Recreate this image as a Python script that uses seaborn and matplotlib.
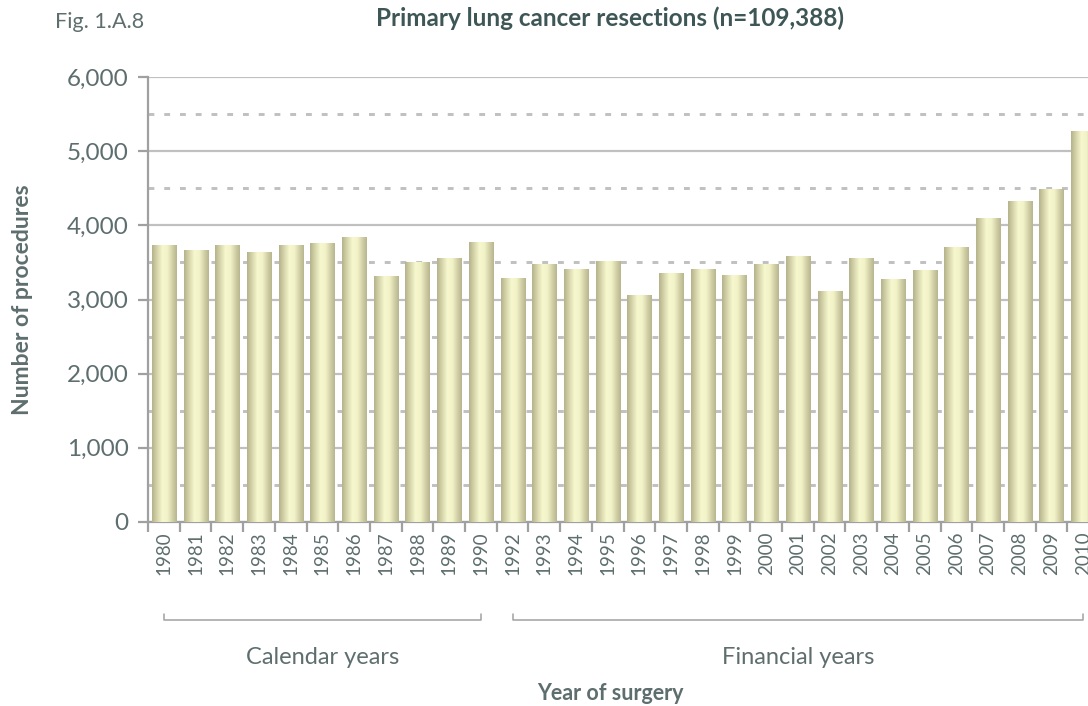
import numpy as np
import pandas as pd
import seaborn as sns
import matplotlib.pyplot as plt
from matplotlib.colors import LinearSegmentedColormap
from matplotlib.ticker import MultipleLocator, FuncFormatter

# values
calendar_years = ['1980', '1981', '1982', '1983', '1984', '1985', '1986',
                  '1987', '1988', '1989', '1990']
calendar_counts = [3736, 3668, 3736, 3641, 3736, 3763, 3844, 3317, 3506, 3560, 3776]
financial_years = ['1992', '1993', '1994', '1995', '1996', '1997', '1998', '1999',
                   '2000', '2001', '2002', '2003', '2004', '2005', '2006', '2007',
                   '2008', '2009', '2010']
financial_counts = [3290, 3479, 3412, 3520, 3061, 3358, 3412, 3331, 3479, 3587,
                    3114, 3560, 3277, 3398, 3709, 4095, 4324, 4486, 5270]

years = calendar_years + financial_years
counts = calendar_counts + financial_counts
df = pd.DataFrame({'Year': years, 'Procedures': counts})

sns.set_theme(style='white')
plt.rcParams['font.family'] = ['Lato', 'DejaVu Sans']

text_col = '#5e6e6e'
dark_col = '#3f5656'
grid_col = '#c0c0c0'
axis_col = '#a0a0a0'

fig = plt.figure(figsize=(10.88, 7.06), dpi=100)
ax = fig.add_axes([148 / 1088, 1 - 521.7 / 706, 951 / 1088, 444.4 / 706])

sns.barplot(data=df, x='Year', y='Procedures', color='#eeeec0', width=0.76,
            ax=ax, zorder=3, saturation=1)

# horizontal shading on each bar, clipped to the bar patch
shade = LinearSegmentedColormap.from_list(
    'shade', [(0.0, '#b4b38b'), (0.18, '#d2d1a8'), (0.42, '#f8f8cf'),
              (0.62, '#f3f3c8'), (0.85, '#cdcca3'), (1.0, '#b7b68f')])
grad = np.linspace(0, 1, 64).reshape(1, -1)
for p in ax.patches:
    x0, y0 = p.get_x(), p.get_y()
    w, h = p.get_width(), p.get_height()
    im = ax.imshow(grad, cmap=shade, aspect='auto', extent=[x0, x0 + w, y0, y0 + h],
                   zorder=3.5, interpolation='bicubic')
    im.set_clip_path(p)
    p.set_edgecolor('none')

ax.set_xlim(-0.5, len(years) - 0.5)
ax.set_ylim(0, 6000)

# grid: solid at 1000s, dashed at 500s
ax.yaxis.set_major_locator(MultipleLocator(1000))
ax.yaxis.set_minor_locator(MultipleLocator(500))
ax.grid(axis='y', which='major', color=grid_col, lw=1.6, zorder=0)
ax.grid(axis='y', which='minor', color=grid_col, lw=2.1, ls=(0, (2, 3.4)), zorder=0)
ax.set_axisbelow(True)
ax.yaxis.set_major_formatter(FuncFormatter(lambda v, _: f'{int(v):,}'))

for s in ['top', 'right']:
    ax.spines[s].set_visible(False)
for s in ['left', 'bottom']:
    ax.spines[s].set_color(axis_col)
    ax.spines[s].set_linewidth(1.6)

ax.tick_params(axis='y', which='major', left=True, length=7, width=1.6,
               color=axis_col, labelsize=17.5, labelcolor=text_col, pad=7)
ax.tick_params(axis='y', which='minor', left=False)
ax.set_xticks(range(len(years)))
ax.set_xticklabels(years, rotation=90)
ax.set_xticks(np.arange(len(years) + 1) - 0.5, minor=True)
ax.tick_params(axis='x', which='major', bottom=False, length=0, labelsize=13.5,
               labelcolor=text_col, pad=7)
ax.tick_params(axis='x', which='minor', bottom=True, length=7, width=1.6, color=axis_col)

ax.set_xlabel('')
ax.set_ylabel('Number of procedures', fontsize=16.5, fontweight='bold', color=text_col)
ax.yaxis.set_label_coords(-0.121, 0.5)

# brackets under the year labels
tr = ax.get_xaxis_transform()
groups = [(calendar_years, 'Calendar years'), (financial_years, 'Financial years')]
for grp, label in groups:
    a = years.index(grp[0])
    b = years.index(grp[-1])
    ax.plot([a, a, b, b], [-0.208, -0.222, -0.222, -0.208], transform=tr,
            color=axis_col, lw=1.1, clip_on=False)
    ax.text((a + b) / 2, -0.305, label, transform=tr, ha='center', va='center',
            fontsize=17, color=text_col)

fig.text(610 / 1088, 1 - 693 / 706, 'Year of surgery', ha='center', va='center',
         fontsize=15.5, fontweight='bold', color=text_col)
fig.text(610 / 1088, 1 - 18 / 706, 'Primary lung cancer resections (n=109,388)',
         ha='center', va='center', fontsize=17.5, fontweight='bold', color=dark_col)
fig.text(55 / 1088, 1 - 22 / 706, 'Fig. 1.A.8', ha='left', va='center',
         fontsize=15.5, color=text_col)

fig.savefig('out.png', dpi=100)
